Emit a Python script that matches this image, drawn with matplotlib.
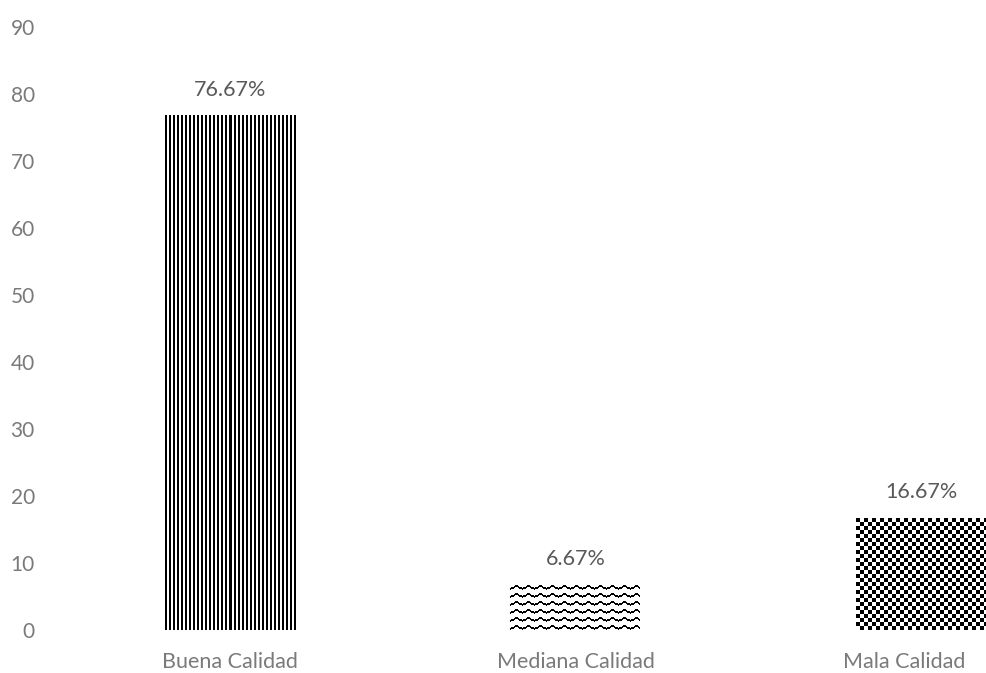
import numpy as np
import matplotlib
matplotlib.use("Agg")
import matplotlib.pyplot as plt
import matplotlib.transforms as mtransforms

categories = ["Buena Calidad", "Mediana Calidad", "Mala Calidad"]
values = [76.67, 6.67, 16.67]
labels = ["76.67%", "6.67%", "16.67%"]
yticks = [0, 10, 20, 30, 40, 50, 60, 70, 80, 90]

plt.rcParams['font.family'] = ['Lato', 'DejaVu Sans']

W, H = 987, 673
fig = plt.figure(figsize=(W / 100, H / 100), dpi=100)
ax = fig.add_axes([57 / W, 43 / H, (W - 57) / W, (630 - 27) / H])


def stripes(h, w):
    c = np.arange(w)[None, :].repeat(h, 0)
    return ((c // 2) % 2).astype(float)


def waves(h, w):
    r = np.arange(h)[:, None]
    c = np.arange(w)[None, :]
    period = 12
    tri = np.abs((c % period) - period / 2) / (period / 2)
    off = np.round(tri * 3)
    d = (r - off) % 8
    return np.where(d < 1.5, 0.0, 1.0)


def checker(h, w):
    r = np.arange(h)[:, None]
    c = np.arange(w)[None, :]
    return ((r // 4 + c // 4) % 2).astype(float)


patterns = [stripes, waves, checker]

x = np.arange(len(categories))
bars = ax.bar(x, values, width=0.377, color='white', edgecolor='none', zorder=1)
ax.set_xlim(-0.5, 2.19)
ax.set_ylim(0, 90)

inv = ax.transData.inverted()
for bar, pat in zip(bars, patterns):
    ext = bar.get_window_extent()
    px0, py0 = round(ext.x0), round(ext.y0)
    pw, ph = int(round(ext.width)), int(round(ext.height))
    (dx0, dy0), (dx1, dy1) = inv.transform([(px0, py0), (px0 + pw, py0 + ph)])
    img = pat(ph, pw)
    ax.imshow(img, extent=(dx0, dx1, dy0, dy1), cmap='gray',
              vmin=0, vmax=1, interpolation='nearest', aspect='auto',
              zorder=2, clip_path=bar, clip_on=True)

ax.set_xlim(-0.5, 2.19)
ax.set_ylim(0, 90)

for bar, lab in zip(bars, labels):
    ax.annotate(lab, (bar.get_x() + bar.get_width() / 2, bar.get_height()),
                xytext=(0, 19), textcoords='offset points', ha='center',
                va='center', fontsize=15.5, color='#595959')

ax.set_xticks(x)
ax.set_xticklabels(categories)
ax.set_yticks(yticks)
for s in ax.spines.values():
    s.set_visible(False)
ax.tick_params(axis='both', length=0, labelsize=15, colors='#7a7a7a')
ax.tick_params(axis='x', pad=16, labelsize=15.5)
ax.tick_params(axis='y', pad=16)

# last label is pushed left so it stays inside the picture
last = ax.get_xticklabels()[-1]
last.set_transform(last.get_transform() +
                   mtransforms.ScaledTranslation(-12 / 72, 0, fig.dpi_scale_trans))

plt.savefig('out.png', dpi=100)
